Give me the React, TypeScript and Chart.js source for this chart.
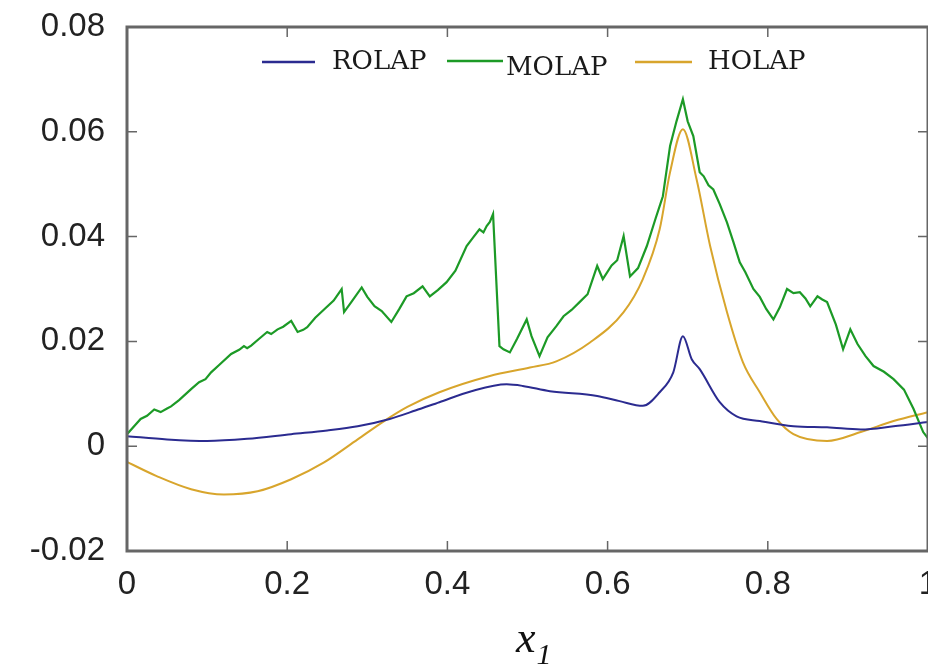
import React, { useEffect, useRef } from "react";
import { Chart, registerables } from "chart.js";

Chart.register(...registerables);

// ---- data ----
const ROLAP_X = [0, 0.05, 0.1, 0.15, 0.205, 0.25, 0.288, 0.328, 0.36, 0.39, 0.43, 0.474, 0.494, 0.528, 0.587, 0.615, 0.644, 0.665, 0.682, 0.694, 0.705, 0.715, 0.74, 0.761, 0.79, 0.832, 0.874, 0.916, 0.957, 1.0];
const ROLAP_Y = [0.0019, 0.0013, 0.001, 0.0014, 0.0023, 0.003, 0.0038, 0.0052, 0.0068, 0.0084, 0.0105, 0.0118, 0.0115, 0.0105, 0.0096, 0.0086, 0.0077, 0.0103, 0.0141, 0.021, 0.0166, 0.0147, 0.0084, 0.0057, 0.0048, 0.0038, 0.0036, 0.0032, 0.0038, 0.0046];

const HOLAP_X = [0, 0.037, 0.08, 0.121, 0.163, 0.205, 0.246, 0.288, 0.321, 0.35, 0.39, 0.453, 0.503, 0.536, 0.578, 0.62, 0.644, 0.665, 0.678, 0.694, 0.711, 0.728, 0.749, 0.769, 0.79, 0.811, 0.832, 0.874, 0.916, 0.957, 1.0];
const HOLAP_Y = [-0.003, -0.0057, -0.0082, -0.0092, -0.0086, -0.0063, -0.0031, 0.0013, 0.0048, 0.0075, 0.0103, 0.0134, 0.015, 0.0162, 0.0198, 0.0256, 0.0319, 0.0414, 0.0523, 0.0605, 0.051, 0.0382, 0.0256, 0.016, 0.0103, 0.0052, 0.0023, 0.001, 0.0027, 0.0048, 0.0065];

const MOLAP_X = [0, 0.01, 0.017, 0.025, 0.034, 0.042, 0.05, 0.055, 0.065, 0.08, 0.09, 0.098, 0.105, 0.115, 0.13, 0.14, 0.146, 0.15, 0.155, 0.165, 0.175, 0.18, 0.188, 0.195, 0.205, 0.213, 0.22, 0.225, 0.235, 0.246, 0.258, 0.268, 0.271, 0.28, 0.293, 0.3, 0.309, 0.318, 0.33, 0.34, 0.349, 0.358, 0.369, 0.378, 0.388, 0.399, 0.41, 0.424, 0.432, 0.44, 0.445, 0.449, 0.453, 0.457, 0.465, 0.47, 0.478, 0.487, 0.499, 0.505, 0.515, 0.525, 0.536, 0.545, 0.555, 0.565, 0.575, 0.587, 0.594, 0.605, 0.612, 0.62, 0.628, 0.638, 0.649, 0.66, 0.669, 0.678, 0.686, 0.694, 0.7, 0.707, 0.715, 0.72, 0.726, 0.732, 0.74, 0.749, 0.757, 0.765, 0.772, 0.782, 0.79, 0.798, 0.807, 0.815, 0.824, 0.832, 0.84, 0.847, 0.853, 0.862, 0.868, 0.874, 0.885, 0.894, 0.903, 0.912, 0.922, 0.932, 0.945, 0.957, 0.97, 0.982, 0.994, 1.0];
const MOLAP_Y = [0.0023, 0.004, 0.0052, 0.0058, 0.007, 0.0065, 0.0072, 0.0076, 0.0088, 0.0109, 0.0122, 0.0128, 0.0141, 0.0155, 0.0176, 0.0184, 0.0191, 0.0187, 0.0192, 0.0205, 0.0218, 0.0214, 0.0223, 0.0228, 0.0239, 0.0218, 0.0222, 0.0227, 0.0245, 0.0261, 0.0278, 0.03, 0.0256, 0.0275, 0.0303, 0.0285, 0.0267, 0.0258, 0.0237, 0.0262, 0.0286, 0.0292, 0.0305, 0.0286, 0.0298, 0.0313, 0.0335, 0.0382, 0.0398, 0.0414, 0.0408, 0.042, 0.0428, 0.0443, 0.0191, 0.0185, 0.0179, 0.0205, 0.0242, 0.021, 0.0172, 0.0208, 0.0229, 0.0248, 0.026, 0.0275, 0.029, 0.0344, 0.0319, 0.0345, 0.0355, 0.0401, 0.0324, 0.034, 0.0382, 0.0435, 0.0477, 0.0573, 0.062, 0.0662, 0.062, 0.0592, 0.0523, 0.0515, 0.0498, 0.049, 0.0462, 0.0427, 0.039, 0.0351, 0.0332, 0.03, 0.0285, 0.0262, 0.0242, 0.0265, 0.03, 0.0292, 0.0294, 0.0282, 0.0267, 0.0286, 0.028, 0.0275, 0.0232, 0.0185, 0.0223, 0.0195, 0.0172, 0.0153, 0.0142, 0.0128, 0.0108, 0.0071, 0.0027, 0.0015];

const SERIES_NAMES = ["ROLAP", "MOLAP", "HOLAP"];
const SERIES_COLORS = ["#2b2b90", "#1c9a26", "#d8a52c"];

const X_TICKS = [0, 0.2, 0.4, 0.6, 0.8, 1];
const X_TICK_LABELS = ["0", "0.2", "0.4", "0.6", "0.8", "1"];
const Y_TICKS = [-0.02, 0, 0.02, 0.04, 0.06, 0.08];
const Y_TICK_LABELS = ["-0.02", "0", "0.02", "0.04", "0.06", "0.08"];

const FRAME = "#666666";

const zeroPad = (s: any) => {
  s.paddingTop = 0;
  s.paddingBottom = 0;
  s.paddingLeft = 0;
  s.paddingRight = 0;
};

const framePlugin = {
  id: "frame",
  afterDatasetsDraw(chart: any) {
    const { ctx, chartArea } = chart;
    const { left, right, top, bottom } = chartArea;
    const xs = chart.scales.x;
    const ys = chart.scales.y;
    ctx.save();
    ctx.strokeStyle = FRAME;
    ctx.lineWidth = 1.5;
    const tl = 10;
    X_TICKS.forEach((v) => {
      const px = xs.getPixelForValue(v);
      if (px <= left + 1 || px >= right - 1) return;
      ctx.beginPath();
      ctx.moveTo(px, bottom);
      ctx.lineTo(px, bottom - tl);
      ctx.moveTo(px, top);
      ctx.lineTo(px, top + tl);
      ctx.stroke();
    });
    Y_TICKS.forEach((v) => {
      const py = ys.getPixelForValue(v);
      if (py <= top + 1 || py >= bottom - 1) return;
      ctx.beginPath();
      ctx.moveTo(left, py);
      ctx.lineTo(left + tl, py);
      ctx.moveTo(right, py);
      ctx.lineTo(right - tl, py);
      ctx.stroke();
    });
    ctx.lineWidth = 3;
    ctx.strokeRect(left, top, right - left, bottom - top);

    // legend inside plot
    const entries = [
      { x0: 262, x1: 315, ly: 62, tx: 332, ty: 62 },
      { x0: 447, x1: 503, ly: 61, tx: 506, ty: 68 },
      { x0: 635, x1: 692, ly: 62, tx: 708, ty: 62 },
    ];
    ctx.font = "26px 'DejaVu Serif'";
    ctx.textBaseline = "middle";
    ctx.textAlign = "left";
    entries.forEach((e, i) => {
      ctx.strokeStyle = SERIES_COLORS[i];
      ctx.lineWidth = 2.5;
      ctx.beginPath();
      ctx.moveTo(e.x0, e.ly);
      ctx.lineTo(e.x1, e.ly);
      ctx.stroke();
      ctx.fillStyle = "#1a1a1a";
      ctx.fillText(SERIES_NAMES[i], e.tx, e.ty);
    });

    // axis title x_1
    const cx = (left + right) / 2;
    ctx.fillStyle = "#111";
    ctx.font = "italic 44px 'Liberation Serif'";
    ctx.textAlign = "right";
    ctx.textBaseline = "alphabetic";
    ctx.fillText("x", cx + 8, 652);
    ctx.font = "italic 30px 'Liberation Serif'";
    ctx.textAlign = "left";
    ctx.fillText("1", cx + 9, 664);
    ctx.restore();
  },
};

export default function App() {
  const ref = useRef<HTMLCanvasElement | null>(null);
  useEffect(() => {
    if (!ref.current) return;
    const mk = (xs: number[], ys: number[]) => xs.map((x, i) => ({ x, y: ys[i] }));
    const chart = new Chart(ref.current, {
      type: "line",
      data: {
        datasets: [
          { label: SERIES_NAMES[0], data: mk(ROLAP_X, ROLAP_Y), borderColor: SERIES_COLORS[0], borderWidth: 2, pointRadius: 0, cubicInterpolationMode: "monotone" },
          { label: SERIES_NAMES[1], data: mk(MOLAP_X, MOLAP_Y), borderColor: SERIES_COLORS[1], borderWidth: 2.2, pointRadius: 0, tension: 0 },
          { label: SERIES_NAMES[2], data: mk(HOLAP_X, HOLAP_Y), borderColor: SERIES_COLORS[2], borderWidth: 2, pointRadius: 0, cubicInterpolationMode: "monotone" },
        ],
      },
      options: {
        responsive: false,
        animation: false,
        layout: { autoPadding: false, padding: { top: 27, right: -1, left: 0, bottom: 0 } },
        plugins: { legend: { display: false }, tooltip: { enabled: false } },
        scales: {
          x: {
            type: "linear",
            min: 0,
            max: 1,
            afterBuildTicks: (s: any) => { s.ticks = X_TICKS.map((v) => ({ value: v })); },
            afterFit: (s: any) => { s.height = 120; zeroPad(s); },
            ticks: {
              callback: (_v: any, i: number) => X_TICK_LABELS[i],
              font: { family: "'Liberation Sans'", size: 33 },
              color: "#222",
              padding: 14,
              maxRotation: 0,
              autoSkip: false,
            },
            grid: { display: false, drawTicks: false },
            border: { display: false },
          },
          y: {
            type: "linear",
            min: -0.02,
            max: 0.08,
            afterBuildTicks: (s: any) => { s.ticks = Y_TICKS.map((v) => ({ value: v })); },
            afterFit: (s: any) => { s.width = 127; zeroPad(s); },
            ticks: {
              callback: (_v: any, i: number) => Y_TICK_LABELS[i],
              font: { family: "'Liberation Sans'", size: 33 },
              color: "#222",
              padding: 22,
              autoSkip: false,
            },
            grid: { display: false, drawTicks: false },
            border: { display: false },
          },
        },
      },
      plugins: [framePlugin],
    });
    return () => chart.destroy();
  }, []);
  return (
    <div style={{ position: "absolute", left: 0, top: 0, width: 928, height: 671, background: "#fff" }}>
      <canvas ref={ref} width={928} height={671} />
    </div>
  );
}
